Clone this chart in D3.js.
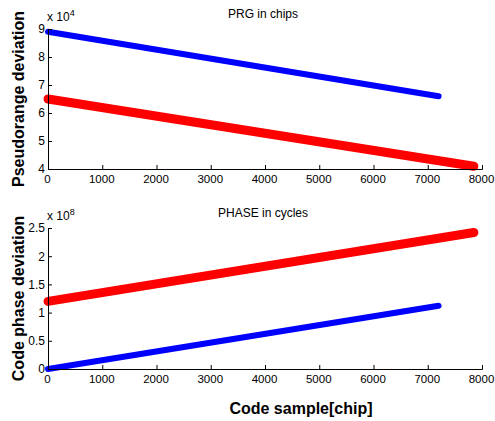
<!DOCTYPE html>
<html>
<head>
<meta charset="utf-8">
<script src="https://cdn.jsdelivr.net/npm/d3@7"></script>
<style>
body { margin: 0; background: #fff; }
text { font-family: "Liberation Sans", Arial, sans-serif; }
</style>
</head>
<body>
<script>
// code sample axis
var xTicks = [0, 1000, 2000, 3000, 4000, 5000, 6000, 7000, 8000];

// PRG in chips (x 10^4)
var prgSamples = [0, 7200],
    prgBlue = [8.9, 6.6];
var prgRedSamples = [0, 7850],
    prgRed = [6.5, 4.1];
var prgTicks = [4, 5, 6, 7, 8, 9];

// PHASE in cycles (x 10^8)
var phaseSamples = [0, 7200],
    phaseBlue = [0.0, 1.12];
var phaseRedSamples = [0, 7850],
    phaseRed = [1.2, 2.42];
var phaseTicks = [0, 0.5, 1, 1.5, 2, 2.5];

var width = 495, height = 421;

var svg = d3.select("body").append("svg")
    .attr("width", width)
    .attr("height", height);

var x = d3.scaleLinear().domain([0, 8000]).range([48, 482]);

function drawPanel(top, bottom, domain, ticks, fmt, title, ylabel, exp, series) {
    var y = d3.scaleLinear().domain(domain).range([bottom, top]);
    var g = svg.append("g");

    var line = d3.line()
        .x(function(d){ return x(d[0]); })
        .y(function(d){ return y(d[1]); });

    series.forEach(function(s){
        var pts = s.xs.map(function(v, i){ return [v, s.ys[i]]; });
        g.append("path")
            .datum(pts)
            .attr("d", line)
            .attr("fill", "none")
            .attr("stroke", s.color)
            .attr("stroke-width", s.w)
            .attr("stroke-linecap", "round");
    });

    // x axis, inward ticks
    var xa = g.append("g")
        .attr("transform", "translate(0," + bottom + ")")
        .call(d3.axisBottom(x).tickValues(xTicks).tickSize(-4).tickPadding(6).tickFormat(d3.format("d")));
    // y axis, inward ticks
    var ya = g.append("g")
        .attr("transform", "translate(48,0)")
        .call(d3.axisLeft(y).tickValues(ticks).tickSize(-4).tickPadding(6).tickFormat(fmt));

    [xa, ya].forEach(function(a){
        a.select(".domain").attr("stroke", "#000").attr("stroke-width", 1);
        a.selectAll(".tick line").attr("stroke", "#000");
        a.selectAll("text").attr("font-size", 12).attr("fill", "#000")
            .attr("font-family", "Liberation Sans, Arial, sans-serif");
    });
    xa.selectAll("text").attr("font-size", 11.5).attr("dx", -1);
    ya.selectAll("text").attr("dx", 3);

    // exponent label
    var ex = g.append("text")
        .attr("x", 47).attr("y", top - 8)
        .attr("font-size", 12);
    ex.append("tspan").text("x 10");
    ex.append("tspan").attr("dy", -5).attr("font-size", 9).text(exp);

    g.append("text")
        .attr("x", 263).attr("y", top - 11)
        .attr("text-anchor", "middle")
        .attr("font-size", 12)
        .text(title);

    g.append("text")
        .attr("transform", "translate(24," + ((top + bottom) / 2) + ") rotate(-90)")
        .attr("text-anchor", "middle")
        .attr("font-size", 16)
        .attr("font-weight", "bold")
        .text(ylabel);
}

drawPanel(29, 169, [4, 9], prgTicks, d3.format("d"), "PRG in chips", "Pseudorange deviation", "4", [
    {xs: prgSamples, ys: prgBlue, color: "#0000ff", w: 6},
    {xs: prgRedSamples, ys: prgRed, color: "#ff0000", w: 9}
]);

drawPanel(228, 369, [0, 2.5], phaseTicks, function(d){ return d === 0 ? "0" : String(d); },
    "PHASE in cycles", "Code phase deviation", "8", [
    {xs: phaseSamples, ys: phaseBlue, color: "#0000ff", w: 6},
    {xs: phaseRedSamples, ys: phaseRed, color: "#ff0000", w: 9}
]);

svg.append("text")
    .attr("x", 301).attr("y", 414)
    .attr("text-anchor", "middle")
    .attr("font-size", 16)
    .attr("font-weight", "bold")
    .text("Code sample[chip]");
</script>
</body>
</html>
